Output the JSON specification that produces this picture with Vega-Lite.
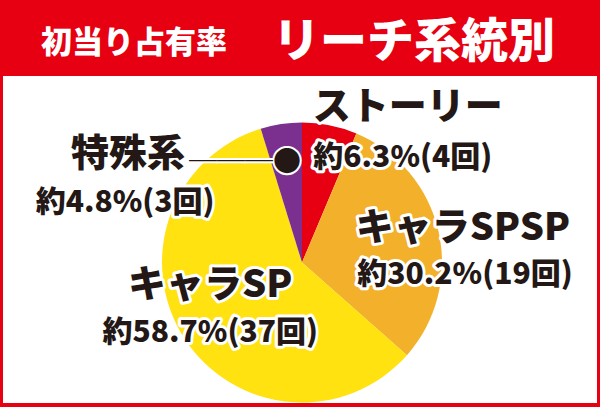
{
  "$schema": "https://vega.github.io/schema/vega-lite/v6.json",
  "autosize": "none",
  "width": 594,
  "height": 327,
  "padding": {"left": 3, "top": 76, "right": 3, "bottom": 4},
  "background": "#e60012",
  "view": {"fill": "white", "stroke": null},
  "title": {
    "text": "初当り占有率",
    "subtitle": "リーチ系統別",
    "anchor": "start",
    "frame": "group",
    "font": "Noto Sans CJK JP",
    "fontSize": 31,
    "fontWeight": 900,
    "color": "white",
    "subtitleFont": "Noto Sans CJK JP",
    "subtitleFontSize": 47,
    "subtitleFontWeight": 900,
    "subtitleColor": "white",
    "subtitlePadding": -40,
    "offset": 0,
    "dx": 270,
    "encoding": {"dx": {"value": 38}}
  },
  "data": {
    "values": [
      {"cat": "ストーリー", "count": 4, "label": "約6.3%(4回)"},
      {"cat": "キャラSPSP", "count": 19, "label": "約30.2%(19回)"},
      {"cat": "キャラSP", "count": 37, "label": "約58.7%(37回)"},
      {"cat": "特殊系", "count": 3, "label": "約4.8%(3回)"}
    ]
  },
  "transform": [{"window": [{"op": "row_number", "as": "idx"}]}],
  "config": {"text": {"font": "Noto Sans CJK JP"}},
  "layer": [
    {
      "mark": {"type": "arc", "outerRadius": 140, "x": {"expr": "width/2 + 2"}, "y": {"expr": "height/2 + 23"}},
      "encoding": {
        "theta": {"field": "count", "type": "quantitative", "stack": true},
        "order": {"field": "idx", "type": "quantitative"},
        "color": {
          "field": "cat",
          "type": "nominal",
          "scale": {
            "domain": ["ストーリー", "キャラSPSP", "キャラSP", "特殊系"],
            "range": ["#e60012", "#f3b02b", "#ffe210", "#7b2f8e"]
          },
          "legend": null
        }
      }
    },
    {
      "mark": {"type": "text", "radius": 100, "x": {"expr": "width/2 + 2"}, "y": {"expr": "height/2 + 23"},
        "fontSize": 28, "align": "right", "baseline": "middle", "dx": 14,
        "fill": "white", "stroke": "white", "strokeWidth": 4, "strokeJoin": "round"},
      "encoding": {
        "theta": {"field": "count", "type": "quantitative", "stack": true},
        "order": {"field": "idx", "type": "quantitative"},
        "text": {"condition": {"test": "datum.cat === '特殊系'", "value": "───●"}, "value": ""}
      }
    },
    {
      "mark": {"type": "text", "radius": 100, "x": {"expr": "width/2 + 2"}, "y": {"expr": "height/2 + 23"},
        "fontSize": 28, "align": "right", "baseline": "middle", "dx": 14, "fill": "#231815"},
      "encoding": {
        "theta": {"field": "count", "type": "quantitative", "stack": true},
        "order": {"field": "idx", "type": "quantitative"},
        "text": {"condition": {"test": "datum.cat === '特殊系'", "value": "───●"}, "value": ""}
      }
    },
    {
      "mark": {"type": "text", "radius": 120, "x": {"expr": "width/2 + 2"}, "y": {"expr": "height/2 + 23"},
        "fontSize": 38, "fontWeight": 900, "baseline": "middle",
        "fill": "white", "stroke": "white", "strokeWidth": 6, "strokeJoin": "round",
        "dx": {"expr": "datum.cat === 'ストーリー' ? 82 : datum.cat === 'キャラSPSP' ? 44 : datum.cat === 'キャラSP' ? 9 : -156"},
        "dy": {"expr": "datum.cat === 'ストーリー' ? -37 : datum.cat === 'キャラSPSP' ? -7 : datum.cat === 'キャラSP' ? -42 : 11"}},
      "encoding": {
        "theta": {"field": "count", "type": "quantitative", "stack": true},
        "order": {"field": "idx", "type": "quantitative"},
        "text": {"field": "cat"}
      }
    },
    {
      "mark": {"type": "text", "radius": 120, "x": {"expr": "width/2 + 2"}, "y": {"expr": "height/2 + 23"},
        "fontSize": 30, "fontWeight": 900, "baseline": "middle",
        "fill": "white", "stroke": "white", "strokeWidth": 6, "strokeJoin": "round",
        "dx": {"expr": "datum.cat === 'ストーリー' ? 77 : datum.cat === 'キャラSPSP' ? 46 : datum.cat === 'キャラSP' ? 9 : -159"},
        "dy": {"expr": "datum.cat === 'ストーリー' ? 13 : datum.cat === 'キャラSPSP' ? 39 : datum.cat === 'キャラSP' ? 5 : 59"}},
      "encoding": {
        "theta": {"field": "count", "type": "quantitative", "stack": true},
        "order": {"field": "idx", "type": "quantitative"},
        "text": {"field": "label"}
      }
    },
    {
      "mark": {"type": "text", "radius": 120, "x": {"expr": "width/2 + 2"}, "y": {"expr": "height/2 + 23"},
        "fontSize": 38, "fontWeight": 900, "baseline": "middle", "fill": "#231815",
        "dx": {"expr": "datum.cat === 'ストーリー' ? 82 : datum.cat === 'キャラSPSP' ? 44 : datum.cat === 'キャラSP' ? 9 : -156"},
        "dy": {"expr": "datum.cat === 'ストーリー' ? -37 : datum.cat === 'キャラSPSP' ? -7 : datum.cat === 'キャラSP' ? -42 : 11"}},
      "encoding": {
        "theta": {"field": "count", "type": "quantitative", "stack": true},
        "order": {"field": "idx", "type": "quantitative"},
        "text": {"field": "cat"}
      }
    },
    {
      "mark": {"type": "text", "radius": 120, "x": {"expr": "width/2 + 2"}, "y": {"expr": "height/2 + 23"},
        "fontSize": 30, "fontWeight": 900, "baseline": "middle", "fill": "#231815",
        "dx": {"expr": "datum.cat === 'ストーリー' ? 77 : datum.cat === 'キャラSPSP' ? 46 : datum.cat === 'キャラSP' ? 9 : -159"},
        "dy": {"expr": "datum.cat === 'ストーリー' ? 13 : datum.cat === 'キャラSPSP' ? 39 : datum.cat === 'キャラSP' ? 5 : 59"}},
      "encoding": {
        "theta": {"field": "count", "type": "quantitative", "stack": true},
        "order": {"field": "idx", "type": "quantitative"},
        "text": {"field": "label"}
      }
    }
  ]
}
